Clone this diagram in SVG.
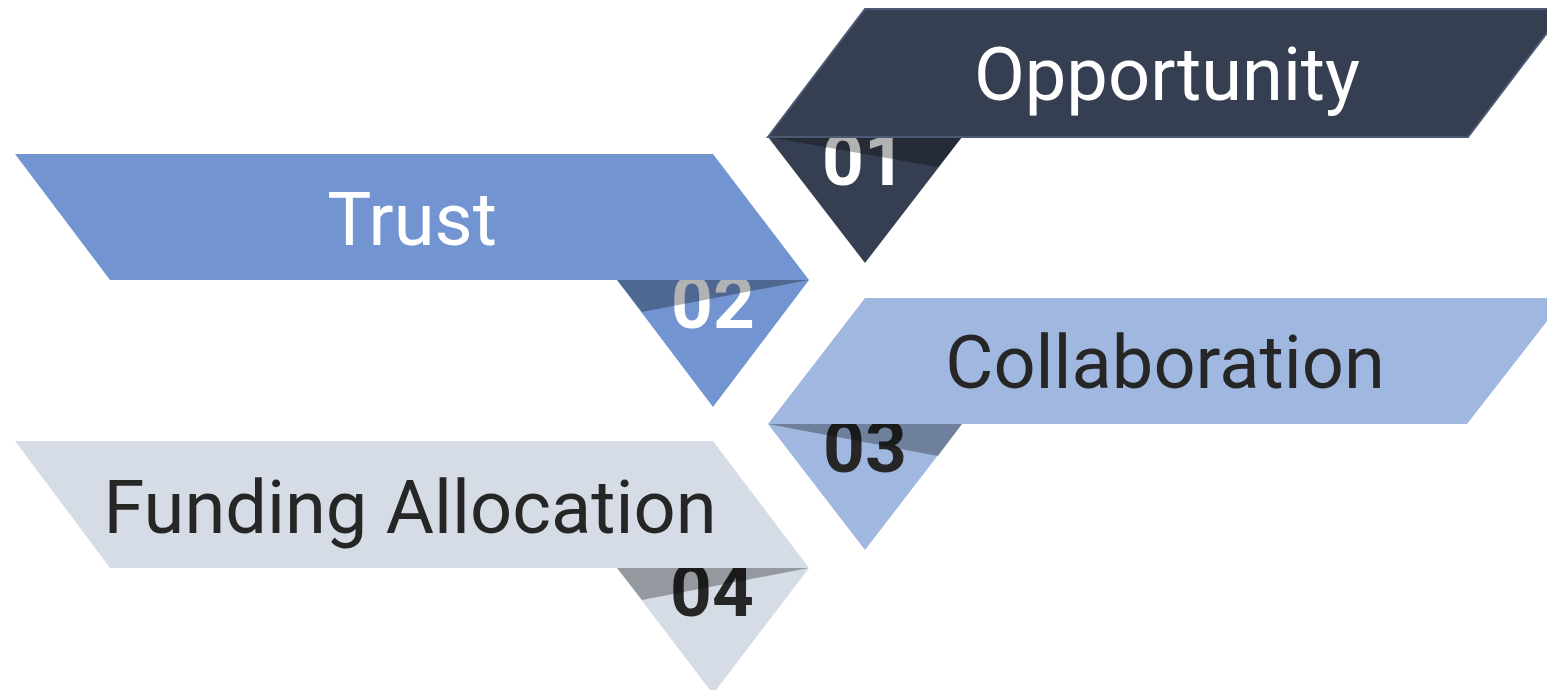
<svg xmlns="http://www.w3.org/2000/svg" width="1547" height="690" viewBox="0 0 1547 690">
  <style>
    .label { font-family: Roboto, "Liberation Sans", sans-serif; font-size: 74px; text-anchor: middle; }
    .num { font-family: Roboto, "Liberation Sans", sans-serif; font-size: 73px; font-weight: bold; text-anchor: middle; }
    .shade { fill: #000000; fill-opacity: 0.3; }
  </style>
  <rect width="1547" height="690" fill="#ffffff"/>

  <!-- 01 Opportunity -->
  <g id="step-01">
    <polygon points="768,137 962,137 865,263" fill="#353f51"/>
    <text class="num" x="864" y="185" fill="#ffffff">01</text>
    <polygon class="shade" points="768,137 962,137 938,167"/>
    <polygon points="865,9 1565,9 1468,137 768,137" fill="#353f51" stroke="#4b5a72" stroke-width="2"/>
    <text class="label" x="1167" y="100" fill="#ffffff">Opportunity</text>
  </g>

  <!-- 02 Trust -->
  <g id="step-02">
    <polygon points="617,280 809,280 713,407" fill="#7295d2"/>
    <text class="num" x="713" y="328" fill="#ffffff">02</text>
    <polygon class="shade" points="809,280 617,280 642,312"/>
    <polygon points="15,154 713,154 809,280 110,280" fill="#7295d2"/>
    <text class="label" x="412" y="245" fill="#ffffff">Trust</text>
  </g>

  <!-- 03 Collaboration -->
  <g id="step-03">
    <polygon points="768,424 962,424 865,550" fill="#a0b8e0"/>
    <text class="num" x="865" y="472" fill="#262626">03</text>
    <polygon class="shade" points="768,424 962,424 938,456"/>
    <polygon points="865,298 1565,298 1467,424 768,424" fill="#a0b8e0"/>
    <text class="label" x="1165" y="388" fill="#262626">Collaboration</text>
  </g>

  <!-- 04 Funding Allocation -->
  <g id="step-04">
    <polygon points="617,568 809,568 713,694" fill="#d5dce6"/>
    <text class="num" x="712" y="616" fill="#262626">04</text>
    <polygon class="shade" points="809,568 617,568 642,600"/>
    <polygon points="15,441 713,441 809,568 110,568" fill="#d5dce6"/>
    <text class="label" x="410" y="533" fill="#262626">Funding Allocation</text>
  </g>

  <g id="connectors"></g>
</svg>
